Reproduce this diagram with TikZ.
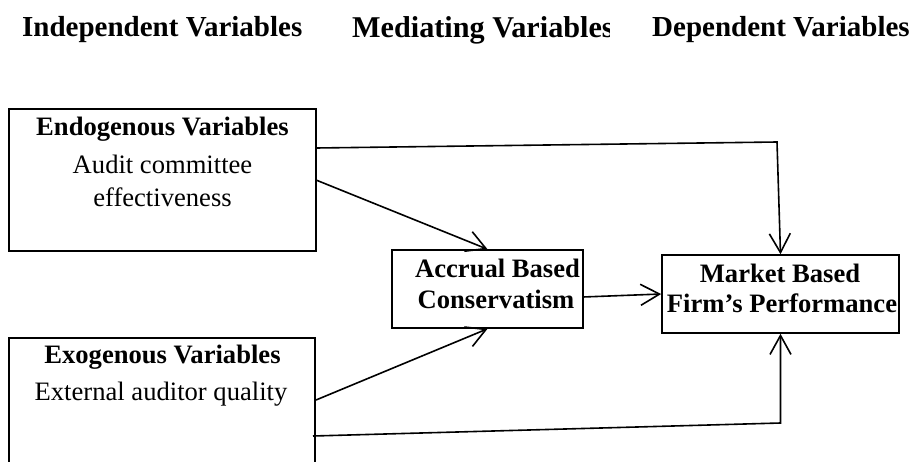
\documentclass[tikz,border=0pt]{standalone}
\usepackage{fontspec}
\setmainfont{Liberation Serif}
\usetikzlibrary{arrows.meta}
\begin{document}
\begin{tikzpicture}[x=1pt,y=-1pt,
  boxnode/.style={draw, line width=1.6pt, rectangle, inner sep=0pt},
  txt/.style={anchor=base, inner sep=0pt, font=\fontsize{26.6}{32}\selectfont},
  btxt/.style={anchor=base, inner sep=0pt, font=\bfseries\fontsize{26.6}{32}\selectfont},
  hdr/.style={anchor=base west, inner sep=0pt, font=\bfseries\fontsize{29}{34}\selectfont},
  conn/.style={line width=1.6pt, -{Straight Barb[length=19pt,width=21pt]}}]
\useasboundingbox (0,0) rectangle (913,461);
\clip (0,0) rectangle (913,461);

% headers
\node[hdr] (hind) at (22,36) {Independent Variables};
\begin{scope}
  \clip (340,0) rectangle (609,60);
  \node[hdr, font=\bfseries\fontsize{30.2}{36}\selectfont] (hmed) at (352,37) {Mediating Variables};
\end{scope}
\node[hdr] (hdep) at (652,36) {Dependent Variables};

% boxes
\node[boxnode, minimum width=307pt, minimum height=142pt] (endo) at (162.5,180) {};
\node[boxnode, minimum width=306pt, minimum height=200pt] (exo) at (162,438) {};
\node[boxnode, minimum width=191pt, minimum height=78pt] (acc) at (487.5,289) {};
\node[boxnode, minimum width=237pt, minimum height=78pt] (mkt) at (780.5,294) {};

% box texts
\node[btxt] (endoA) at (162.5,135) {Endogenous Variables};
\node[txt] (endoB) at (162.5,173) {Audit committee};
\node[txt] (endoC) at (162.5,206) {effectiveness};

\node[btxt] (exoA) at (162.5,363) {Exogenous Variables};
\node[txt] (exoB) at (161,400) {External auditor quality};

\node[btxt] (accA) at (497.5,277) {Accrual Based};
\node[btxt] (accB) at (496,308) {Conservatism};

\node[btxt] (mktA) at (780,282) {Market Based};
\node[btxt] (mktB) at (782,312) {Firm’s Performance};

% connector anchor points
\coordinate (e1) at (316,148);
\coordinate (c1) at (777,142);
\coordinate (e2) at (316,180);
\coordinate (a1) at (583,297);
\coordinate (x1) at (316,400);
\coordinate (x2) at (313,436);
\coordinate (c2) at (780.5,423);

% connectors
\draw[conn] (e1) -- (c1) -- (mkt.north);
\draw[conn] (e2) -- (acc.north);
\draw[conn] (a1) -- (mkt.west);
\draw[conn] (x1) -- (acc.south);
\draw[conn] (x2) -- (c2) -- (mkt.south);
\end{tikzpicture}
\end{document}
